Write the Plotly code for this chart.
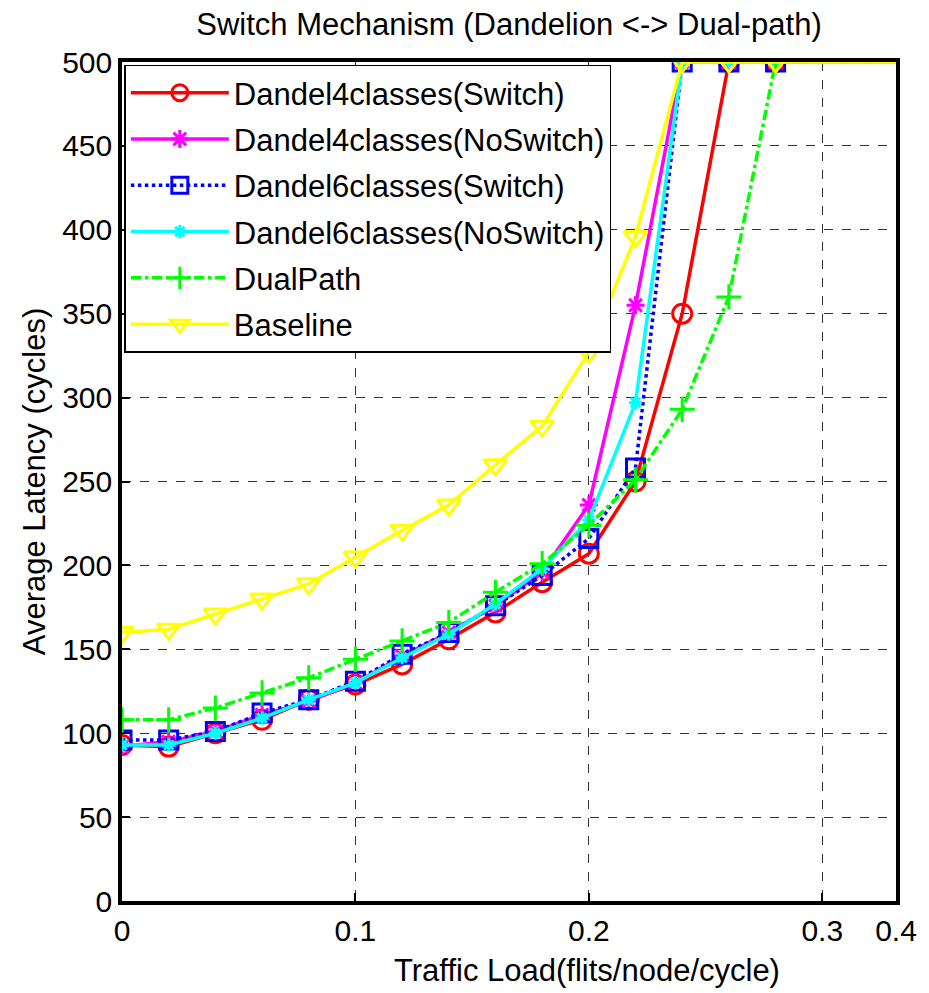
import plotly.graph_objects as go

# Offered traffic (flits/node/cycle); the last load lies past the visible range
loads = [0.00, 0.02, 0.04, 0.06, 0.08, 0.10, 0.12, 0.14,
         0.16, 0.18, 0.20, 0.22, 0.24, 0.26, 0.28, 0.40]

# Average latency (cycles), saturated runs are capped at 500
dandel4_switch = [93, 92, 100, 108, 120, 129, 141, 156, 172, 190, 207, 250, 350, 500, 500, 500]
dandel4_noswitch = [92, 95, 101, 111, 119, 130, 146, 160, 176, 196, 236, 355, 500, 500, 500, 500]
dandel6_switch = [96, 96, 101, 112, 120, 131, 147, 160, 176, 194, 216, 258, 500, 500, 500, 500]
dandel6_noswitch = [93, 93, 100, 109, 120, 130, 145, 159, 177, 198, 227, 297, 500, 500, 500, 500]
dualpath = [108, 108, 115, 124, 133, 144, 155, 166, 184, 201, 224, 251, 293, 360, 500, 500]
baseline = [160, 162, 171, 180, 189, 205, 221, 236, 260, 283, 327, 396, 500, 500, 500, 500]

x_tick_vals = [0, 0.1, 0.2, 0.3, 0.3316]
x_tick_text = ["0", "0.1", "0.2", "0.3", "0.4"]
y_tick_vals = list(range(0, 501, 50))

FONT = "Liberation Sans, Arial, sans-serif"

series = [
    ("Dandel4classes(Switch)", dandel4_switch, "#FF0000", "solid", "circle-open", 19),
    ("Dandel4classes(NoSwitch)", dandel4_noswitch, "#FF00FF", "solid", "asterisk-open", 15),
    ("Dandel6classes(Switch)", dandel6_switch, "#0000FF", "dot", "square-open", 18),
    ("Dandel6classes(NoSwitch)", dandel6_noswitch, "#00FFFF", "solid", "asterisk-open", 11),
    ("DualPath", dualpath, "#00FF00", "dashdot", "cross-thin-open", 18),
    ("Baseline", baseline, "#FFFF00", "solid", "triangle-down-open", 20),
]

fig = go.Figure()
for i, (name, vals, color, dash, symbol, size) in enumerate(series):
    fig.add_trace(go.Scatter(
        x=loads, y=vals, name=name, mode="lines+markers",
        legendgroup=f"g{i}",
        line=dict(color=color, width=3.5, dash=dash),
        marker=dict(symbol=symbol, size=size, color=color,
                    line=dict(color=color, width=3)),
    ))

axis_common = dict(
    showline=True, linecolor="black", linewidth=3.5, mirror=True,
    ticks="inside", ticklen=8, tickwidth=2, tickcolor="black",
    showgrid=True, gridcolor="#333333", gridwidth=1, griddash="dash",
    zeroline=False, layer="below traces",
    tickfont=dict(family=FONT, size=30, color="black"),
)

fig.update_xaxes(range=[0, 0.3316], tickvals=x_tick_vals, ticktext=x_tick_text,
                 **axis_common)
fig.update_yaxes(range=[0, 500], tickvals=y_tick_vals,
                 title=dict(text="Average Latency (cycles)", standoff=8,
                            font=dict(family=FONT, size=31, color="black")),
                 **axis_common)

fig.add_annotation(
    text="Traffic Load(flits/node/cycle)", xref="paper", yref="paper",
    x=0.6005, y=-0.0834, xanchor="center", yanchor="middle", showarrow=False,
    font=dict(family=FONT, size=31, color="black"),
)

fig.update_layout(
    width=929, height=993,
    margin=dict(l=122, r=21, t=62, b=92),
    paper_bgcolor="white", plot_bgcolor="white",
    title=dict(text="Switch Mechanism (Dandelion <-> Dual-path)",
               x=0.5, xref="paper", y=0.976, yref="container",
               xanchor="center", yanchor="middle",
               font=dict(family=FONT, size=31, color="black")),
    legend=dict(
        x=0.003, y=0.997, xanchor="left", yanchor="top",
        bgcolor="white", bordercolor="black", borderwidth=1.5,
        font=dict(family=FONT, size=31, color="black"),
        itemwidth=98, tracegroupgap=3,
    ),
    showlegend=True,
)

fig.write_html("out.html")
